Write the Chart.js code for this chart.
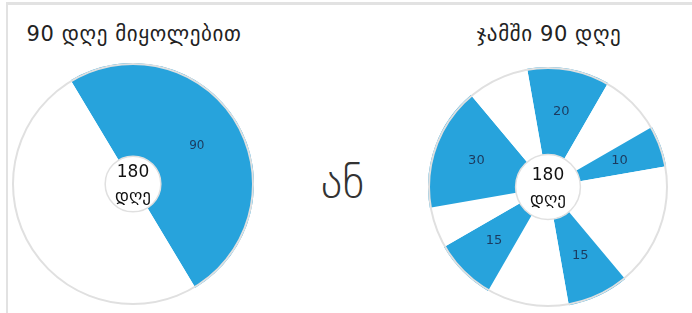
<!DOCTYPE html>
<html>
<head>
<meta charset="utf-8">
<script src="https://cdn.jsdelivr.net/npm/chart.js@4/dist/chart.umd.min.js"></script>
<style>
  html, body { margin: 0; padding: 0; background: #fff; }
  body { width: 692px; height: 313px; position: relative; overflow: hidden; font-family: "DejaVu Sans", sans-serif; }
  .frame { position: absolute; left: 6px; top: 2px; width: 690px; height: 320px;
           border-left: 2px solid #e2e2e2; border-top: 3px solid #e2e2e2; }
  .title { position: absolute; top: 22px; width: 280px; text-align: center; font-size: 21px;
           letter-spacing: 0.6px; color: #222; }
  .or { position: absolute; left: 300px; top: 155px; width: 85px; text-align: center;
        font-size: 46px; font-weight: 300; color: #333; }
  canvas { position: absolute; }
</style>
</head>
<body>
<div class="frame"></div>
<div class="title" style="left:-6px">90 დღე მიყოლებით</div>
<div class="title" style="left:409px">ჯამში 90 დღე</div>
<div class="or">ან</div>
<canvas id="leftChart" width="242" height="242" style="left:12px; top:63px"></canvas>
<canvas id="rightChart" width="240" height="240" style="left:428px; top:67px"></canvas>
<script>
// მონაცემები
const leftValues = [90, 90];
const leftShaded = [true, false];

const rightValues = [20, 15, 10, 30, 15, 20, 15, 10, 30, 15];
const rightShaded = [true, false, true, false, true, false, true, false, true, false];

const centerLines = ['180', 'დღე'];

const blue = '#27a3dc';

// წრის კონტური, ცენტრის ტექსტი და ეტიკეტები
function wheelPlugin(shaded, labelSize) {
    return {
        id: 'wheel',
        afterDatasetsDraw(chart) {
            const ctx = chart.ctx;
            const meta = chart.getDatasetMeta(0);
            const first = meta.data[0];
            const x = first.x, y = first.y;
            const outer = first.outerRadius, inner = first.innerRadius;

            ctx.save();
            ctx.strokeStyle = '#e0e0e0';
            ctx.lineWidth = 2;
            ctx.beginPath();
            ctx.arc(x, y, outer - 1, 0, Math.PI * 2);
            ctx.stroke();
            ctx.lineWidth = 1.5;
            ctx.beginPath();
            ctx.arc(x, y, inner, 0, Math.PI * 2);
            ctx.stroke();

            ctx.fillStyle = '#1c3a5e';
            ctx.font = labelSize + 'px "DejaVu Sans"';
            ctx.textAlign = 'center';
            ctx.textBaseline = 'middle';
            meta.data.forEach((arc, i) => {
                if (!shaded[i]) return;
                const p = arc.tooltipPosition();
                ctx.fillText(String(chart.data.datasets[0].data[i]), p.x, p.y);
            });

            ctx.fillStyle = '#111';
            ctx.font = '17px "DejaVu Sans"';
            ctx.fillText(centerLines[0], x, y - 11);
            ctx.fillText(centerLines[1], x, y + 13);
            ctx.restore();
        }
    };
}

function makeWheel(id, values, shaded, rotation, cutout, labelSize) {
    return new Chart(document.getElementById(id), {
        type: 'doughnut',
        data: {
            labels: values.map(String),
            datasets: [{
                data: values,
                backgroundColor: shaded.map(s => s ? blue : '#ffffff'),
                borderWidth: 0,
                hoverOffset: 0
            }]
        },
        options: {
            responsive: false,
            animation: false,
            rotation: rotation,
            cutout: cutout,
            layout: { padding: 0 },
            plugins: { legend: { display: false }, tooltip: { enabled: false } }
        },
        plugins: [wheelPlugin(shaded, labelSize)]
    });
}

makeWheel('leftChart', leftValues, leftShaded, -31, '23%', 12);
makeWheel('rightChart', rightValues, rightShaded, -10, '27%', 13);
</script>
</body>
</html>
